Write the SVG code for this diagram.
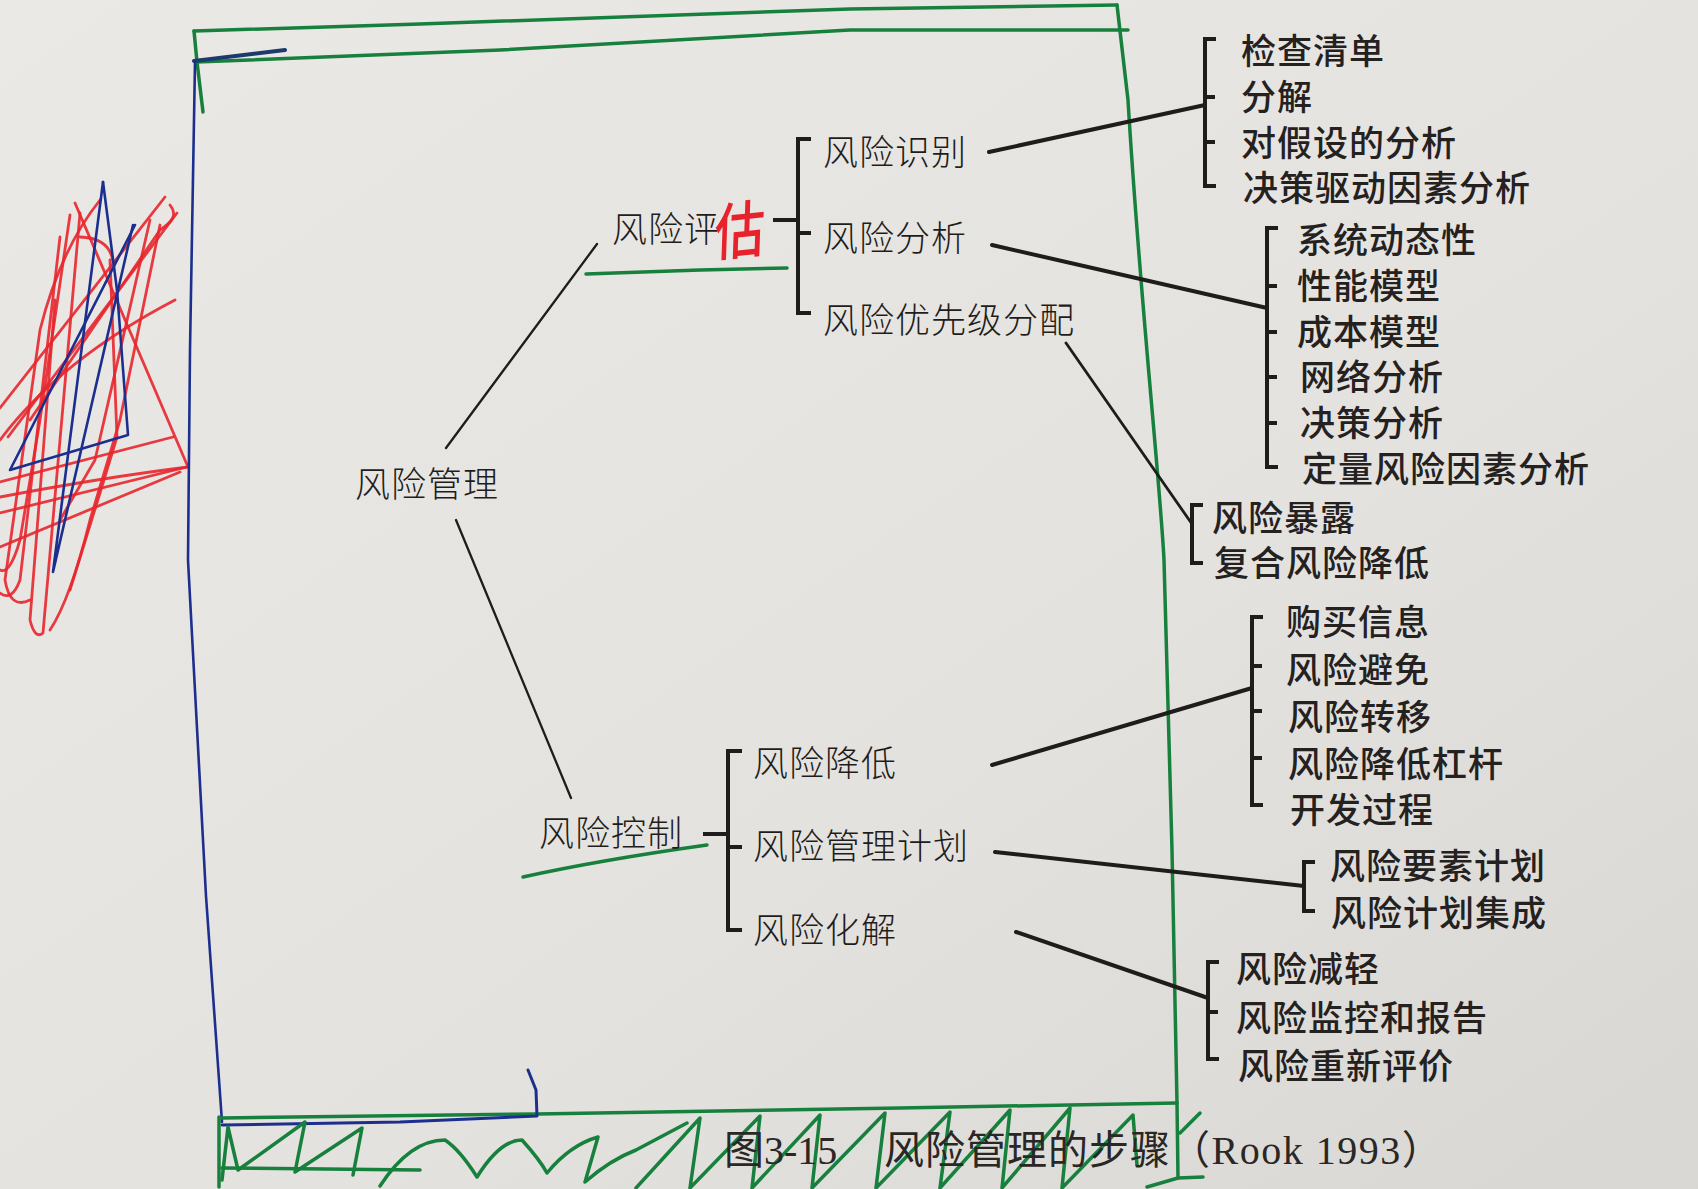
<svg xmlns="http://www.w3.org/2000/svg" width="1698" height="1189" viewBox="0 0 1698 1189">
<defs>
<linearGradient id="paper" x1="0" y1="0" x2="1" y2="1">
<stop offset="0" stop-color="#ebe9e6"/>
<stop offset="0.6" stop-color="#e4e2df"/>
<stop offset="1" stop-color="#d9d7d3"/>
</linearGradient>
<style>
.lbl{font-family:"Noto Sans CJK SC","Noto Sans",sans-serif;font-size:35px;font-weight:300;fill:#1f1d1b;letter-spacing:1px}
.leaf{font-family:"Noto Sans CJK SC","Noto Sans",sans-serif;font-size:35px;font-weight:500;fill:#24211f;letter-spacing:1px}
.cap{font-family:"Liberation Serif","Noto Sans CJK SC",serif;font-size:40px;fill:#2a2725}
.br{fill:none;stroke:#1f1d1b;stroke-width:4;stroke-linecap:square}
.ln{fill:none;stroke:#1f1d1b;stroke-width:4;stroke-linecap:round}
.thin{fill:none;stroke:#1f1d1b;stroke-width:2.3;stroke-linecap:round}
.grn{fill:none;stroke:#17803d;stroke-width:3.5;stroke-linecap:round;stroke-linejoin:round}
.blu{fill:none;stroke:#1c2f8e;stroke-width:2.6;stroke-linecap:round;stroke-linejoin:round}
.red{fill:none;stroke:#e8262e;stroke-width:2.8;stroke-linecap:round;stroke-linejoin:round;opacity:0.9}
</style>
</defs>
<rect width="1698" height="1189" fill="url(#paper)"/>

<!-- scribble on the left -->
<g id="scribble">
<path class="red" d="M75,203 L188,467 Q100,478 0,497"/>
<path class="red" d="M165,197 L0,408"/>
<path class="red" d="M177,213 L8,437"/>
<path class="red" d="M170,205 C178,215 172,222 160,230 L30,420"/>
<path class="red" d="M60,237 L20,580 Q12,602 0,593"/>
<path class="red" d="M80,213 L43,633 Q35,640 30,620 L55,300"/>
<path class="red" d="M0,482 L173,437"/>
<path class="red" d="M0,513 L187,467"/>
<path class="red" d="M0,547 L180,472"/>
<path class="red" d="M110,260 L117,437 L100,493 L70,590"/>
<path class="red" d="M80,237 Q110,238 113,262"/>
<path class="red" d="M150,220 L95,460 L60,520"/>
<path class="red" d="M70,215 L40,420 L20,540 Q10,575 0,570"/>
<path class="red" d="M160,225 L120,420 Q105,470 90,520 Q70,600 50,630"/>
<path class="red" d="M30,600 Q10,610 5,580 L40,330 Q60,250 100,200"/>
<path class="red" d="M0,440 Q60,360 175,300"/>
<path class="blu" d="M103,182 L53,572 L133,225"/>
<path class="blu" d="M103,182 L117,290"/>
<path class="blu" d="M135,225 L10,470 L128,435 L117,290"/>
</g>

<!-- hand-drawn frame -->
<g id="frame">
<path class="grn" d="M194,31 L420,24 L850,9 L1117,5"/>
<path class="grn" d="M196,62 L500,50 L850,30 L1128,30"/>
<path class="grn" d="M194,31 L197,62 L203,112"/>
<path d="M194,61 L285,50" fill="none" stroke="#1c3a6e" stroke-width="4" stroke-linecap="round"/>
<path class="blu" d="M195,62 L190,350 L188,560 L206,896 L222,1122"/>
<path class="grn" d="M1117,5 L1128,100 C1140,300 1160,480 1164,560 L1172,850 L1177,1103 L1178,1178 L1147,1187"/>
<path class="grn" d="M1178,1178 L1203,1177"/>
<path class="grn" d="M1180,1133 L1200,1113"/>
<path class="grn" d="M222,1118 L537,1114 L900,1108 L1177,1103"/>
<path d="M222,1125 L400,1122 L537,1116 L536,1090 L528,1070" fill="none" stroke="#1c2f8e" stroke-width="3" stroke-linecap="round" stroke-linejoin="round"/>
<path class="grn" d="M219,1117 L219,1187"/>
<path class="grn" d="M222,1180 L228,1127 L238,1170 L305,1122 L295,1172 L362,1128 L353,1175"/>
<path class="grn" d="M222,1168 L420,1170"/>
<path class="grn" d="M380,1186 Q410,1140 445,1140 Q460,1150 477,1177 Q500,1140 522,1140 Q540,1160 547,1173 Q570,1145 598,1137 L585,1182 Q610,1160 636,1150 L687,1123"/>
<path class="grn" d="M636,1188 L700,1118 L690,1188 L760,1116 L752,1188 L820,1115 L812,1188 L885,1113 L876,1188 L950,1112 L940,1188 L1010,1110 L1002,1188 L1070,1108 L1062,1188 L1133,1115 L1137,1165"/>
</g>

<!-- connectors -->
<g id="connectors">
<path class="thin" d="M446,448 L597,244"/>
<path class="thin" d="M456,520 L571,798"/>
<path class="ln" d="M989,152 L1205,105"/>
<path class="ln" d="M992,245 L1267,308"/>
<path class="thin" d="M1066,343 L1192,524" style="stroke-width:2.8"/>
<path class="ln" d="M992,765 L1252,688"/>
<path class="ln" d="M995,852 L1304,886"/>
<path class="ln" d="M1016,932 L1208,998"/>
<path class="br" d="M809,139 L798,139 L798,313 L809,313 M775,220 L798,220 M798,233 L809,233"/>
<path class="br" d="M1214,39 L1205,39 L1205,186 L1214,186 M1205,97 L1213,97 M1205,142 L1213,142"/>
<path class="br" d="M1276,228 L1267,228 L1267,467 L1276,467 M1267,286 L1275,286 M1267,332 L1275,332 M1267,377 L1275,377 M1267,423 L1275,423"/>
<path class="br" d="M1201,505 L1192,505 L1192,563 L1201,563"/>
<path class="br" d="M740,751 L728,751 L728,930 L740,930 M705,834 L728,834 M728,847 L740,847"/>
<path class="br" d="M1261,617 L1252,617 L1252,805 L1261,805 M1252,666 L1260,666 M1252,711 L1260,711 M1252,758 L1260,758"/>
<path class="br" d="M1313,862 L1304,862 L1304,911 L1313,911"/>
<path class="br" d="M1217,962 L1208,962 L1208,1059 L1217,1059 M1208,1012 L1216,1012"/>
<path class="grn" d="M586,274 L700,270 L787,268"/>
<path class="grn" d="M523,877 Q600,860 707,845"/>
</g>

<g id="n-root"><text class="lbl" x="355" y="497">风险管理</text></g>
<g id="n-assess"><text class="lbl" x="612" y="242">风险评</text>
<text transform="translate(714,256) rotate(-6) skewX(-8) scale(0.9,1.1)" font-family="Noto Sans CJK SC,sans-serif" font-size="56" font-weight="500" fill="#e8222b">估</text></g>
<g id="n-control"><text class="lbl" x="539" y="846">风险控制</text></g>

<g id="n-ident"><text class="lbl" x="823" y="165">风险识别</text></g>
<g id="n-analysis"><text class="lbl" x="823" y="251">风险分析</text></g>
<g id="n-prior"><text class="lbl" x="823" y="333">风险优先级分配</text></g>
<g id="n-reduce"><text class="lbl" x="753" y="776">风险降低</text></g>
<g id="n-plan"><text class="lbl" x="753" y="859">风险管理计划</text></g>
<g id="n-resolve"><text class="lbl" x="753" y="943">风险化解</text></g>

<g id="leaves-ident">
<text class="leaf" x="1241" y="64">检查清单</text>
<text class="leaf" x="1241" y="110">分解</text>
<text class="leaf" x="1241" y="156">对假设的分析</text>
<text class="leaf" x="1243" y="201">决策驱动因素分析</text>
</g>
<g id="leaves-analysis">
<text class="leaf" x="1297" y="253">系统动态性</text>
<text class="leaf" x="1297" y="299">性能模型</text>
<text class="leaf" x="1297" y="345">成本模型</text>
<text class="leaf" x="1300" y="390">网络分析</text>
<text class="leaf" x="1300" y="436">决策分析</text>
<text class="leaf" x="1302" y="482">定量风险因素分析</text>
</g>
<g id="leaves-prior">
<text class="leaf" x="1212" y="531">风险暴露</text>
<text class="leaf" x="1214" y="576">复合风险降低</text>
</g>
<g id="leaves-reduce">
<text class="leaf" x="1286" y="635">购买信息</text>
<text class="leaf" x="1286" y="683">风险避免</text>
<text class="leaf" x="1288" y="730">风险转移</text>
<text class="leaf" x="1288" y="777">风险降低杠杆</text>
<text class="leaf" x="1290" y="823">开发过程</text>
</g>
<g id="leaves-plan">
<text class="leaf" x="1330" y="879">风险要素计划</text>
<text class="leaf" x="1331" y="926">风险计划集成</text>
</g>
<g id="leaves-resolve">
<text class="leaf" x="1236" y="982">风险减轻</text>
<text class="leaf" x="1236" y="1031">风险监控和报告</text>
<text class="leaf" x="1238" y="1079">风险重新评价</text>
</g>

<g id="caption">
<text class="cap" x="724" y="1164">图3-15</text>
<text class="cap" x="884" y="1164" style="letter-spacing:1px">风险管理的步骤</text>
<text class="cap" x="1170" y="1164" style="letter-spacing:1.5px">（Rook 1993）</text>
</g>
</svg>
